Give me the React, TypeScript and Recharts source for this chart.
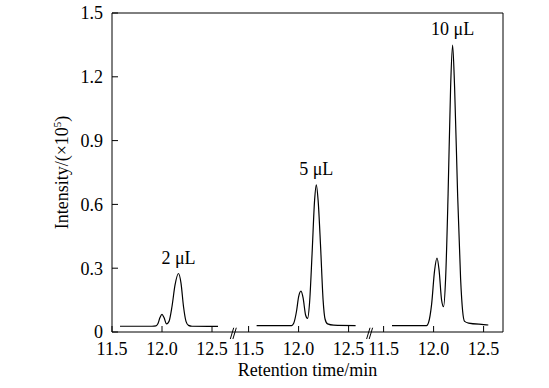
import { LineChart, Line, XAxis, YAxis, ReferenceLine, ReferenceDot } from "recharts";

const FONT = "'Liberation Serif', 'DejaVu Serif Condensed', 'DejaVu Serif', serif";

// each panel of the broken axis runs 11.5 - 12.5 min
const X_TICK_VALUES = [11.5, 12.0, 12.5];
const Y_TICKS = [0, 0.3, 0.6, 0.9, 1.2, 1.5];
// axis position where each panel's 11.5 sits (1 unit = 1 min)
const PANEL_START = [0, 1.366, 2.716];
const X_MAX = 3.91;

const SAMPLE_LABELS = ["2 μL", "5 μL", "10 μL"];

// 2 uL injection
const rt2 = [11.58, 11.9, 11.94, 11.96, 11.98, 12.0, 12.02, 12.045, 12.07, 12.1, 12.13, 12.165, 12.19, 12.215, 12.24, 12.265, 12.3, 12.56];
const int2 = [0.027, 0.027, 0.029, 0.04, 0.068, 0.083, 0.068, 0.038, 0.05, 0.12, 0.22, 0.275, 0.23, 0.12, 0.05, 0.031, 0.027, 0.026];

// 5 uL injection
const rt5 = [11.58, 11.93, 11.95, 11.98, 12.0, 12.024, 12.045, 12.07, 12.09, 12.11, 12.135, 12.16, 12.177, 12.195, 12.22, 12.245, 12.265, 12.29, 12.35, 12.57];
const int5 = [0.03, 0.03, 0.04, 0.1, 0.165, 0.192, 0.16, 0.08, 0.064, 0.14, 0.37, 0.62, 0.692, 0.62, 0.4, 0.15, 0.06, 0.038, 0.032, 0.03];

// 10 uL injection
const rt10 = [11.584, 11.93, 11.95, 11.98, 12.01, 12.034, 12.055, 12.08, 12.1, 12.12, 12.145, 12.17, 12.19, 12.21, 12.24, 12.27, 12.29, 12.31, 12.35, 12.5, 12.547];
const int10 = [0.03, 0.03, 0.045, 0.13, 0.29, 0.348, 0.29, 0.15, 0.119, 0.25, 0.65, 1.15, 1.349, 1.15, 0.65, 0.25, 0.1, 0.05, 0.042, 0.035, 0.033];

const RT = [rt2, rt5, rt10];
const INT = [int2, int5, int10];

const series = RT.map((rt, i) =>
  rt.map((t, j) => ({ pos: +(t - 11.5 + PANEL_START[i]).toFixed(4), v: INT[i][j] }))
);

const apexes = series.map((pts) => pts.reduce((a, b) => (b.v > a.v ? b : a)));

const xTicks = PANEL_START.flatMap((s) => X_TICK_VALUES.map((v) => +(v - 11.5 + s).toFixed(4)));
const fmtX = (p: number) => {
  const idx = xTicks.indexOf(p);
  return idx < 0 ? "" : X_TICK_VALUES[idx % X_TICK_VALUES.length].toFixed(1);
};
const fmtY = (v: number) => (v === 0 ? "0" : v.toFixed(1));

// axis breaks halfway between one panel's last point and the next panel's start
const breaks = PANEL_START.slice(1).map((s, i) => {
  const prevEnd = series[i][series[i].length - 1].pos;
  return (prevEnd + s) / 2;
});

const tickStyle = { fontSize: 18, fill: "#000", fontFamily: FONT };

// eslint-disable-next-line @typescript-eslint/no-explicit-any
const YTitle = ({ viewBox }: any) => {
  const cy = viewBox ? viewBox.y + viewBox.height / 2 : 172;
  const x = 68;
  return (
    <text
      x={x}
      y={cy}
      transform={`rotate(-90, ${x}, ${cy})`}
      textAnchor="middle"
      fontSize={18}
      fontFamily={FONT}
      fill="#000"
    >
      Intensity/(×10
      <tspan dy={-7} fontSize={11}>5</tspan>
      <tspan dy={7}>)</tspan>
    </text>
  );
};

export default function App() {
  return (
    <div style={{ position: "absolute", left: 0, top: 0, background: "#fff" }}>
      <LineChart
        width={549}
        height={388}
        margin={{ top: 13, right: 46, bottom: 0, left: 0 }}
      >
        <XAxis
          type="number"
          dataKey="pos"
          domain={[0, X_MAX]}
          ticks={xTicks}
          interval={0}
          tickFormatter={fmtX}
          allowDataOverflow
          height={56}
          tick={tickStyle}
          tickSize={-6}
          tickMargin={16}
          axisLine={{ stroke: "#000" }}
          tickLine={{ stroke: "#000" }}
          label={{
            value: "Retention time/min",
            position: "insideBottom",
            offset: 12,
            fontSize: 18,
            fill: "#000",
            fontFamily: FONT,
          }}
        />
        <YAxis
          type="number"
          domain={[0, 1.5]}
          ticks={Y_TICKS}
          interval={0}
          tickFormatter={fmtY}
          width={112}
          tick={tickStyle}
          tickSize={-6}
          tickMargin={15}
          axisLine={{ stroke: "#000" }}
          tickLine={{ stroke: "#000" }}
          label={<YTitle />}
        />
        <ReferenceLine y={1.5} stroke="#000" strokeWidth={1} ifOverflow="visible" />
        <ReferenceLine x={X_MAX} stroke="#000" strokeWidth={1} ifOverflow="visible" />
        {breaks.flatMap((b) =>
          [-0.013, 0.013].map((k) => (
            <ReferenceLine
              key={`${b}-${k}`}
              ifOverflow="visible"
              stroke="#000"
              strokeWidth={1}
              segment={[
                { x: b + k - 0.017, y: -0.033 },
                { x: b + k + 0.017, y: 0.02 },
              ]}
            />
          ))
        )}
        {series.map((pts, i) => (
          <Line
            key={SAMPLE_LABELS[i]}
            data={pts}
            dataKey="v"
            type="monotone"
            stroke="#000"
            strokeWidth={1.2}
            dot={false}
            activeDot={false}
            isAnimationActive={false}
          />
        ))}
        {apexes.map((a, i) => (
          <ReferenceDot
            key={SAMPLE_LABELS[i]}
            x={a.pos}
            y={a.v}
            r={0}
            fill="none"
            stroke="none"
            label={{
              value: SAMPLE_LABELS[i],
              position: "top",
              offset: 10,
              fontSize: 18,
              fill: "#000",
              fontFamily: FONT,
            }}
          />
        ))}
      </LineChart>
    </div>
  );
}
